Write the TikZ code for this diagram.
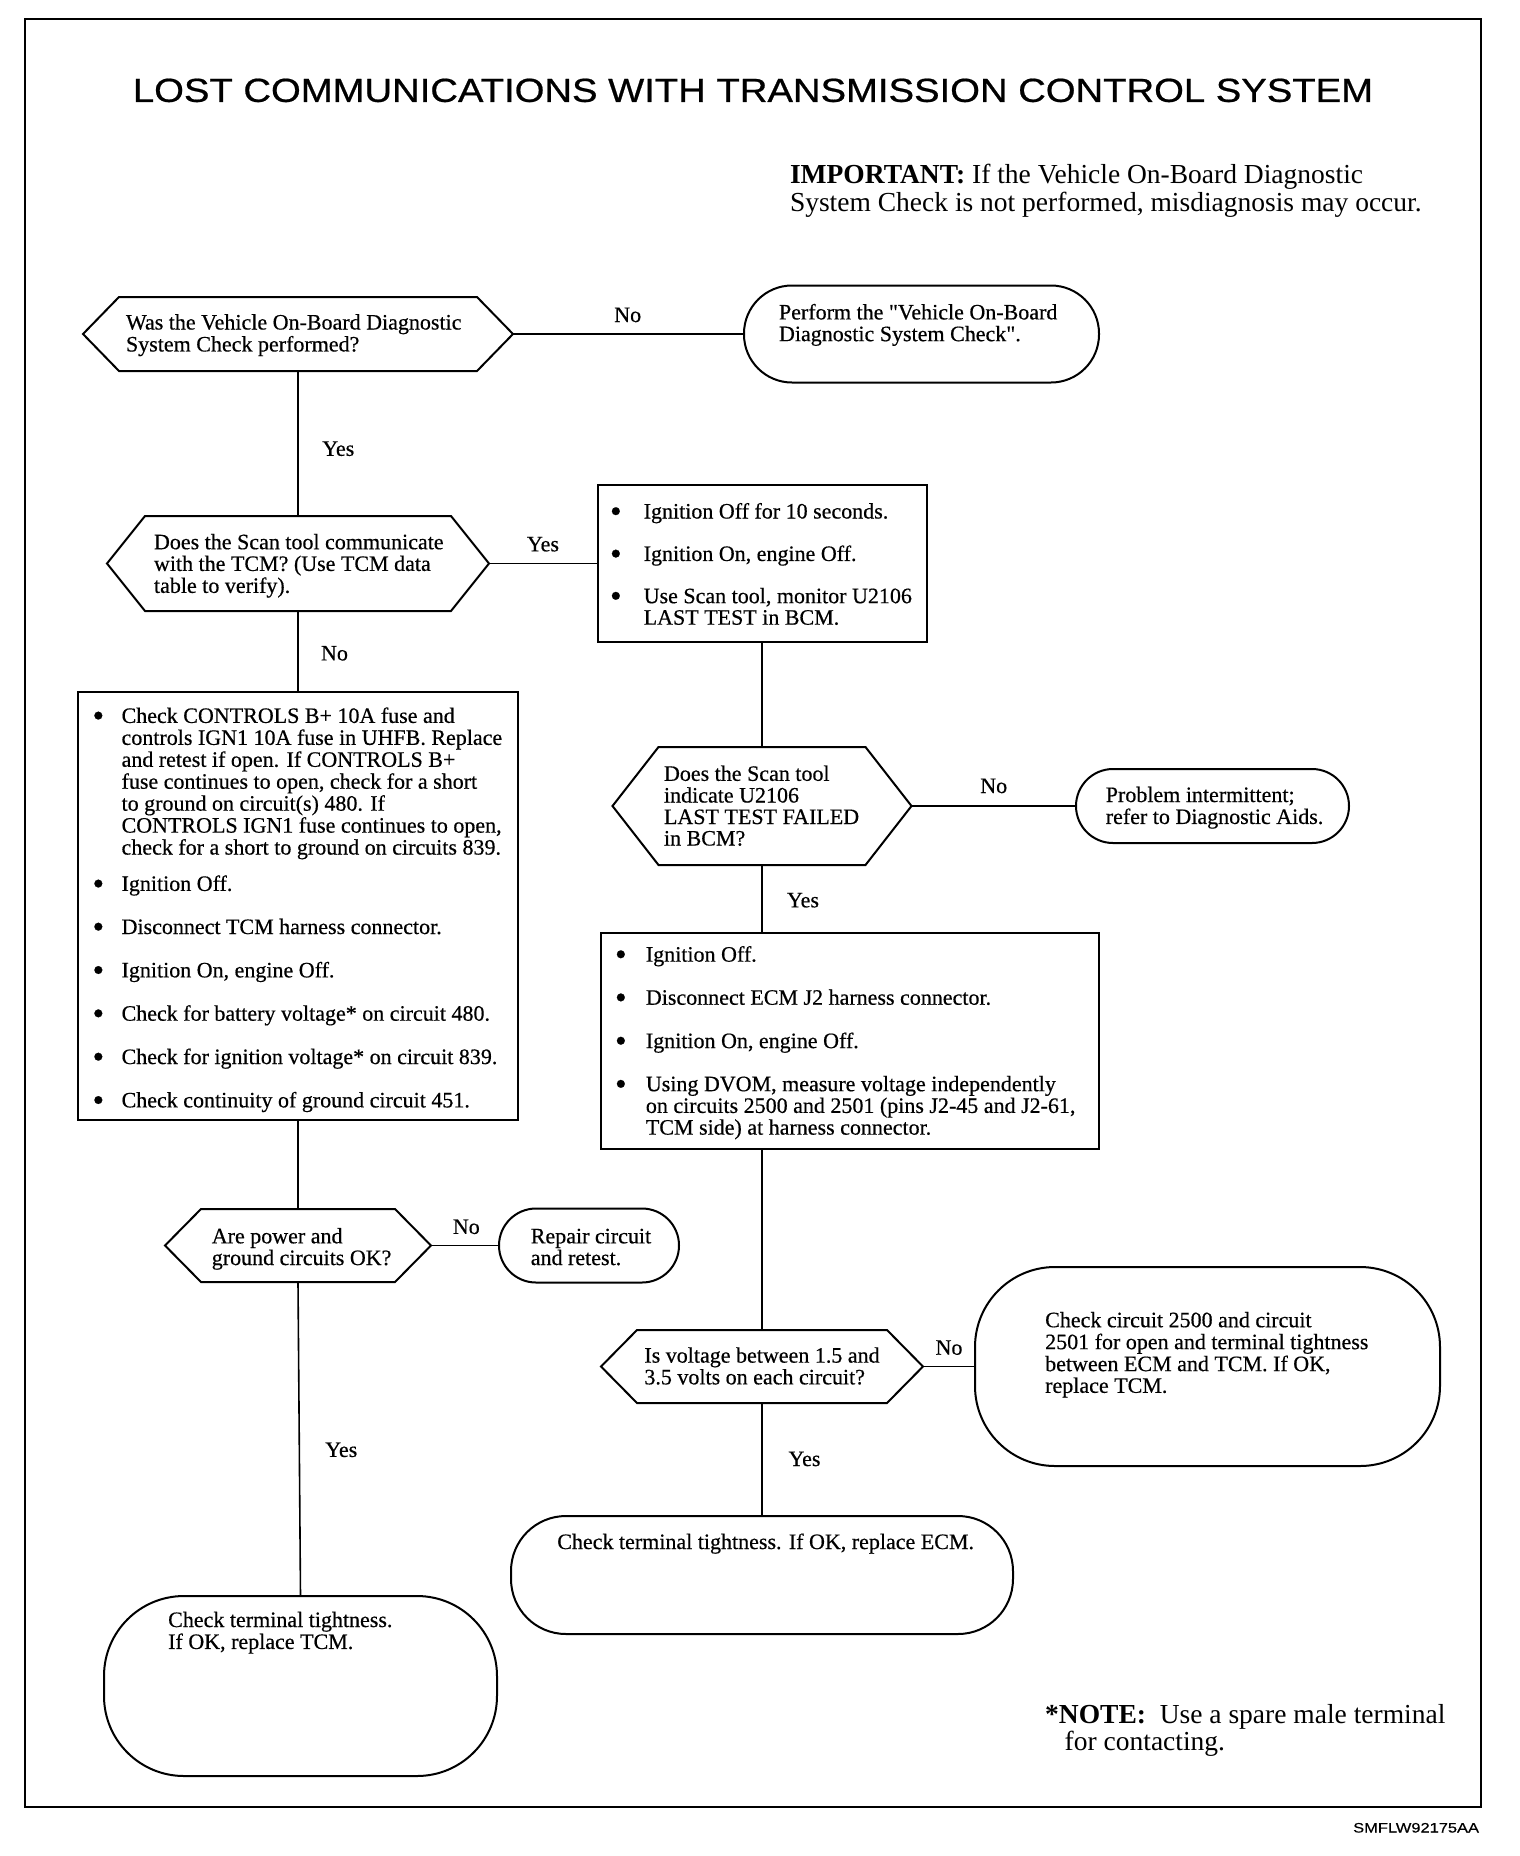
\documentclass[tikz,border=0pt]{standalone}
\usepackage{fontspec}
\usepackage{graphicx}
\setmainfont{Liberation Serif}
\newfontfamily\helv{Liberation Sans}
\def\txtlines#1{\begin{tabular}[t]{@{}l@{}}#1\end{tabular}}
\def\bulletlist#1#2{\begin{tabular}[t]{@{}l@{\hspace{#1}}l@{}}#2\end{tabular}}
\def\bul{\makebox[7.7pt][c]{\raisebox{-3.6pt}{\fontsize{33}{20}\selectfont\textbullet}}}
\def\hexa#1#2{\draw[shape line] (#1.west) -- ([xshift=#2]#1.north west)
  -- ([xshift=-#2]#1.north east) -- (#1.east) -- ([xshift=-#2]#1.south east)
  -- ([xshift=#2]#1.south west) -- cycle;}

\begin{document}
\begin{tikzpicture}[x=1pt,y=-1pt,
  every node/.style={inner sep=0pt,outer sep=0pt},
  txt/.style={anchor=base west,font=\fontsize{22}{21.5}\selectfont\addfontfeatures{FakeBold=0.5}},
  lbl/.style={anchor=base,font=\fontsize{22}{21.5}\selectfont\addfontfeatures{FakeBold=0.5}},
  dec/.style={},
  box/.style={draw,line width=2pt},
  term/.style={draw,line width=2pt,rounded corners=#1},
  link/.style={line width=1.6pt},
  shape line/.style={line width=2pt,line join=miter}]
\useasboundingbox (0,0) rectangle (1520,1856);
\draw[line width=2pt] (25,19) rectangle (1481,1807);

% headings
\node[anchor=base] (title) at (753,101.9)
  {\helv\fontsize{33.4}{34}\selectfont\addfontfeatures{FakeBold=0.6}\scalebox{1.145}[1]{LOST COMMUNICATIONS WITH TRANSMISSION CONTROL SYSTEM}};
\node[anchor=base west,font=\fontsize{27.5}{26.5}\selectfont] (important) at (790,183.9)
  {\txtlines{\textbf{IMPORTANT:} If the Vehicle On-Board Diagnostic\\
  System Check is not performed, misdiagnosis may occur.}};

% shapes
\node[dec,minimum width=430pt,minimum height=74pt] (d1) at (298,334) {};
\node[dec,minimum width=382pt,minimum height=95pt] (d2) at (298,563.5) {};
\node[dec,minimum width=266pt,minimum height=73pt] (d3) at (298,1245.5) {};
\node[dec,minimum width=299pt,minimum height=118pt] (d4) at (762,806) {};
\node[dec,minimum width=322pt,minimum height=73pt] (d5) at (762,1366.5) {};
\hexa{d1}{36pt}
\hexa{d2}{38pt}
\hexa{d3}{36pt}
\hexa{d4}{46pt}
\hexa{d5}{36pt}

\node[box,minimum width=329pt,minimum height=157pt] (b1) at (762,563.5) {};
\node[box,minimum width=440pt,minimum height=428pt] (b2) at (298,906) {};
\node[box,minimum width=498pt,minimum height=216pt] (b3) at (850,1041) {};

\node[term=48pt,minimum width=355pt,minimum height=97pt] (t1) at (921.5,334) {};
\node[term=37pt,minimum width=273pt,minimum height=74pt] (t2) at (1212.5,806) {};
\node[term=80pt,minimum width=465pt,minimum height=199pt] (t3) at (1207.5,1366.5) {};
\node[term=55pt,minimum width=502pt,minimum height=118pt] (t4) at (762,1575) {};
\node[term=37pt,minimum width=180pt,minimum height=74pt] (t5) at (589,1245.5) {};
\node[term=80pt,minimum width=393pt,minimum height=180pt] (t6) at (300.5,1686) {};

% connectors
\draw[link] (d1.east) -- (t1.west);
\draw[link] (d1.south) -- (d2.north);
\draw[link] (d2.east) -- (b1.west);
\draw[link] (d2.south) -- (b2.north);
\draw[link] (b1.south) -- (d4.north);
\draw[link] (d4.east) -- (t2.west);
\draw[link] (d4.south) -- (d4.south |- b3.north);
\draw[link] (b3.south -| d5.north) -- (d5.north);
\draw[link] (d5.east) -- (t3.west);
\draw[link] (d5.south) -- (t4.north);
\draw[link] (b2.south) -- (d3.north);
\draw[link] (d3.east) -- (t5.west);
\draw[link] (d3.south) -- (t6.north);

% labels
\node[lbl] (no1) at (627.7,322) {No};
\node[lbl] (yes1) at (338.3,455.8) {Yes};
\node[lbl] (yes2) at (543,551.3) {Yes};
\node[lbl] (no2) at (334.5,660.4) {No};
\node[lbl] (no4) at (993.7,793) {No};
\node[lbl] (yes4) at (803,907.3) {Yes};
\node[lbl] (no3) at (466.3,1233.9) {No};
\node[lbl] (yes3) at (341.3,1456.9) {Yes};
\node[lbl] (no5) at (949,1354.7) {No};
\node[lbl] (yes5) at (804.5,1466) {Yes};

% texts
\node[txt] (d1txt) at (126,329.5) {\txtlines{Was the Vehicle On-Board Diagnostic\\System Check performed?}};
\node[txt] (d2txt) at (154,549.2) {\txtlines{Does the Scan tool communicate\\with the TCM? (Use TCM data\\table to verify).}};
\node[txt] (d3txt) at (211.8,1243.3) {\txtlines{Are power and\\ground circuits OK?}};
\node[txt] (d4txt) at (664,780.8) {\txtlines{Does the Scan tool\\indicate U2106\\LAST TEST FAILED\\in BCM?}};
\node[txt] (d5txt) at (644.4,1362.6) {\txtlines{Is voltage between 1.5 and\\3.5 volts on each circuit?}};
\node[txt] (t1txt) at (779,319.4) {\txtlines{Perform the \textquotedbl Vehicle On-Board\\Diagnostic System Check\textquotedbl.}};
\node[txt] (t2txt) at (1105.8,802) {\txtlines{Problem intermittent;\\refer to Diagnostic Aids.}};
\node[txt] (t3txt) at (1045.2,1327.2) {\txtlines{Check circuit 2500 and circuit\\2501 for open and terminal tightness\\between ECM and TCM. If OK,\\replace TCM.}};
\node[txt] (t4txt) at (557.3,1549) {Check terminal tightness. If OK, replace ECM.};
\node[txt] (t5txt) at (530.8,1243.3) {\txtlines{Repair circuit\\and retest.}};
\node[txt] (t6txt) at (168.2,1627) {\txtlines{Check terminal tightness.\\If OK, replace TCM.}};

\node[txt] (b1txt) at (612,518.5) {\bulletlist{24pt}{%
  \bul & Ignition Off for 10 seconds.\\[20.5pt]
  \bul & Ignition On, engine Off.\\[20.5pt]
  \bul & Use Scan tool, monitor U2106\\
       & LAST TEST in BCM.}};
\node[txt] (b2txt) at (94.5,722.9) {\bulletlist{19.4pt}{%
  \bul & Check CONTROLS B+ 10A fuse and\\
       & controls IGN1 10A fuse in UHFB. Replace\\
       & and retest if open. If CONTROLS B+\\
       & fuse continues to open, check for a short\\
       & to ground on circuit(s) 480. If\\
       & CONTROLS IGN1 fuse continues to open,\\
       & check for a short to ground on circuits 839.\\[14.4pt]
  \bul & Ignition Off.\\[21.4pt]
  \bul & Disconnect TCM harness connector.\\[21.4pt]
  \bul & Ignition On, engine Off.\\[21.4pt]
  \bul & Check for battery voltage* on circuit 480.\\[21.4pt]
  \bul & Check for ignition voltage* on circuit 839.\\[21.4pt]
  \bul & Check continuity of ground circuit 451.}};
\node[txt] (b3txt) at (617,961.6) {\bulletlist{21.2pt}{%
  \bul & Ignition Off.\\[21.4pt]
  \bul & Disconnect ECM J2 harness connector.\\[21.4pt]
  \bul & Ignition On, engine Off.\\[21.4pt]
  \bul & Using DVOM, measure voltage independently\\
       & on circuits 2500 and 2501 (pins J2-45 and J2-61,\\
       & TCM side) at harness connector.}};

% footnotes
\node[anchor=base west,font=\fontsize{27.5}{25.5}\selectfont] (note) at (1045.2,1723.3)
  {\txtlines{\textbf{*NOTE:}\ \ Use a spare male terminal\\\hspace*{19.5pt}for contacting.}};
\node[anchor=base east] (code) at (1479,1832.5)
  {\helv\fontsize{13.7}{14}\selectfont\addfontfeatures{FakeBold=0.4}\scalebox{1.2}[1]{SMFLW92175AA}};
\end{tikzpicture}
\end{document}
